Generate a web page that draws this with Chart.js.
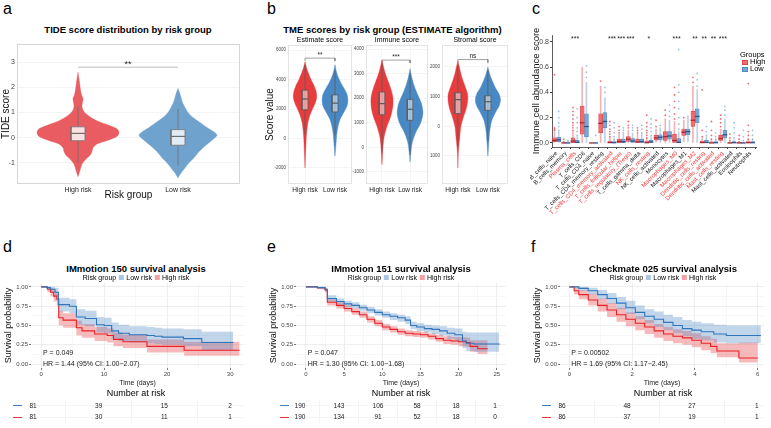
<!DOCTYPE html>
<html>
<head>
<meta charset="utf-8">
<title>Risk group figure</title>
<script src="https://cdn.jsdelivr.net/npm/chart.js@4.4.1/dist/chart.umd.min.js"></script>
<style>
  html, body { margin: 0; padding: 0; background: #fff; }
  #fig { position: relative; width: 771px; height: 428px; overflow: hidden; background: #fff;
         font-family: "Liberation Sans", Arial, sans-serif; color: #000; }
  #fig canvas { position: absolute; }
  .txt { position: absolute; white-space: nowrap; }
  .key { display: inline-block; width: 5px; height: 5px; margin: 0 2px 0 3px; }
  .sq { position: absolute; }
</style>
</head>
<body>
<div id="fig"></div>
<script>
// ---------- a: TIDE score ----------
const tideGroups = ['High risk', 'Low risk'];
const tideTicks = [-1, 0, 1, 2, 3];
const tideHighY = [-1.55, -1.3, -1.05, -0.85, -0.7, -0.55, -0.4, -0.25, -0.1, 0.05, 0.2, 0.35, 0.5, 0.65, 0.8, 0.95, 1.1, 1.25, 1.4, 1.55, 1.7, 1.9, 2.2, 2.6];
const tideHighW = [0, 0.02, 0.04, 0.08, 0.12, 0.14, 0.15, 0.19, 0.3, 0.39, 0.41, 0.39, 0.3, 0.2, 0.13, 0.08, 0.05, 0.04, 0.045, 0.05, 0.035, 0.025, 0.015, 0];
const tideLowY = [-1.6, -1.4, -1.2, -1.0, -0.8, -0.6, -0.4, -0.2, 0.0, 0.1, 0.2, 0.4, 0.6, 0.8, 1.0, 1.2, 1.4, 1.6, 1.8, 1.95];
const tideLowW = [0, 0.03, 0.07, 0.11, 0.16, 0.2, 0.25, 0.31, 0.37, 0.39, 0.37, 0.29, 0.22, 0.15, 0.1, 0.07, 0.045, 0.03, 0.015, 0];
// lower whisker, q1, median, q3, upper whisker
const tideHighBox = [-1.0, -0.12, 0.17, 0.43, 1.25];
const tideLowBox = [-1.1, -0.3, 0.05, 0.32, 1.15];

// ---------- b: ESTIMATE scores ----------
const tmeGroups = ['High risk', 'Low risk'];
const estTicks = [-2000, 0, 2000, 4000, 6000];
const estHighY = [-2000, -1200, -500, 0, 500, 1000, 1500, 2000, 2400, 2800, 3200, 3600, 4000, 4400, 4800, 5200];
const estHighW = [0, 0.015, 0.03, 0.04, 0.06, 0.09, 0.15, 0.25, 0.34, 0.39, 0.37, 0.3, 0.2, 0.12, 0.05, 0];
const estLowY = [-1200, -700, -200, 300, 800, 1300, 1800, 2200, 2600, 3000, 3400, 3800, 4200, 4600, 5000];
const estLowW = [0, 0.02, 0.04, 0.06, 0.1, 0.17, 0.3, 0.4, 0.43, 0.4, 0.3, 0.19, 0.1, 0.04, 0];
const estHighBox = [300, 1950, 2680, 3280, 5000];
const estLowBox = [200, 1800, 2400, 2950, 4600];

const immTicks = [-1000, 0, 1000, 2000, 3000, 4000];
const immHighY = [-700, -300, 100, 500, 900, 1300, 1700, 2100, 2500, 2900, 3200, 3550];
const immHighW = [0, 0.02, 0.04, 0.09, 0.19, 0.32, 0.39, 0.38, 0.28, 0.15, 0.07, 0];
const immLowY = [-600, -200, 200, 600, 1000, 1400, 1800, 2200, 2600, 2900, 3200];
const immLowW = [0, 0.03, 0.08, 0.2, 0.38, 0.46, 0.4, 0.25, 0.12, 0.05, 0];
const immHighBox = [-200, 1330, 1780, 2250, 3400];
const immLowBox = [-300, 1100, 1550, 1950, 3000];

const strTicks = [-1000, 0, 1000, 2000];
const strHighY = [-1400, -1000, -700, -400, 0, 300, 600, 900, 1100, 1400, 1700, 2000, 2200];
const strHighW = [0, 0.01, 0.03, 0.06, 0.1, 0.18, 0.28, 0.33, 0.32, 0.22, 0.12, 0.05, 0];
const strLowY = [-1000, -700, -400, -100, 200, 500, 700, 900, 1100, 1300, 1600, 1800, 2000];
const strLowW = [0, 0.02, 0.04, 0.07, 0.13, 0.27, 0.38, 0.42, 0.37, 0.25, 0.12, 0.05, 0];
const strHighBox = [-700, 430, 900, 1130, 2050];
const strLowBox = [-500, 540, 830, 1030, 1900];

// ---------- c: immune cell abundance ----------
const cellNames = ['B_cells_naive', 'B_cells_memory', 'Plasma_cells', 'T_cells_CD8', 'T_cells_CD4_naive',
  'T_cells_CD4_memory_resting', 'T_cells_CD4_memory_activated', 'T_cells_follicular_helper',
  'T_cells_regulatory_(Tregs)', 'T_cells_gamma_delta', 'NK_cells_resting', 'NK_cells_activated', 'Monocytes',
  'Macrophages_M0', 'Macrophages_M1', 'Macrophages_M2', 'Dendritic_cells_resting', 'Dendritic_cells_activated',
  'Mast_cells_resting', 'Mast_cells_activated', 'Eosinophils', 'Neutrophils'];
const cellSig = ['', '', '***', '', '', '', '***', '***', '***', '', '*', '', '', '***', '', '**', '**', '**', '***', '', '', ''];
const cellTicks = [0, 0.2, 0.4, 0.6, 0.8];
const highLo  = [0, 0, 0, 0, 0, 0, 0, 0, 0, 0, 0, 0, 0, 0, 0.01, 0, 0, 0, 0, 0, 0, 0];
const highQ1  = [0.01, 0, 0.003, 0.07, 0, 0.08, 0, 0.002, 0.012, 0, 0, 0.022, 0.02, 0, 0.06, 0.13, 0, 0, 0.02, 0, 0, 0];
const highMed = [0.02, 0, 0.015, 0.16, 0, 0.155, 0.003, 0.012, 0.03, 0.008, 0.002, 0.04, 0.05, 0.02, 0.085, 0.18, 0.003, 0, 0.035, 0, 0, 0.002];
const highQ3  = [0.04, 0.002, 0.04, 0.29, 0, 0.23, 0.015, 0.03, 0.05, 0.03, 0.015, 0.06, 0.09, 0.07, 0.11, 0.25, 0.015, 0.008, 0.06, 0.004, 0.002, 0.01];
const highHi  = [0.09, 0.004, 0.09, 0.6, 0, 0.45, 0.04, 0.07, 0.1, 0.07, 0.035, 0.11, 0.19, 0.17, 0.18, 0.45, 0.035, 0.02, 0.11, 0.01, 0.005, 0.025];
const lowLo   = [0, 0, 0, 0, 0, 0, 0, 0, 0, 0, 0, 0, 0, 0, 0.01, 0, 0, 0, 0, 0, 0, 0];
const lowQ1   = [0.01, 0, 0, 0.05, 0, 0.12, 0, 0.002, 0, 0, 0, 0.025, 0.03, 0, 0.065, 0.16, 0, 0, 0.04, 0, 0, 0];
const lowMed  = [0.025, 0, 0.005, 0.13, 0, 0.17, 0.002, 0.01, 0.015, 0.01, 0.008, 0.045, 0.055, 0.005, 0.09, 0.21, 0.004, 0.002, 0.065, 0.002, 0, 0.002];
const lowQ3   = [0.045, 0.002, 0.02, 0.23, 0, 0.24, 0.01, 0.03, 0.035, 0.03, 0.02, 0.065, 0.09, 0.035, 0.11, 0.27, 0.02, 0.01, 0.1, 0.01, 0.003, 0.01];
const lowHi   = [0.09, 0.004, 0.05, 0.48, 0, 0.36, 0.025, 0.07, 0.08, 0.07, 0.05, 0.12, 0.18, 0.09, 0.2, 0.42, 0.05, 0.025, 0.19, 0.025, 0.007, 0.025];
const highOut = [[0.1, 0.11, 0.12, 0.54], [0.01, 0.03], [0.1, 0.12, 0.14, 0.16, 0.19, 0.22, 0.25, 0.28], [], [],
  [0.49], [0.05, 0.07, 0.09, 0.11, 0.14, 0.17], [0.08, 0.1, 0.13], [0.12, 0.14, 0.17], [0.08, 0.1, 0.12],
  [0.04, 0.06, 0.08, 0.1, 0.13, 0.16, 0.22], [0.13, 0.18], [0.22, 0.26], [0.19, 0.23, 0.28, 0.33, 0.38, 0.44],
  [0.2], [0.48, 0.52], [0.05, 0.1, 0.42], [0.03, 0.06, 0.1, 0.17], [0.13, 0.16, 0.19, 0.22], [0.02, 0.04, 0.07],
  [0.01, 0.03, 0.06], [0.03, 0.06, 0.09, 0.14, 0.47]];
const lowOut = [[0.1, 0.13, 0.16, 0.2, 0.25], [0.01, 0.02], [0.06, 0.09, 0.12, 0.16, 0.2, 0.27], [0.52, 0.56, 0.61], [0.06],
  [0.4, 0.44], [0.03, 0.05, 0.08, 0.12, 0.16], [0.08, 0.1, 0.12], [0.1, 0.12, 0.14], [0.08, 0.11, 0.14],
  [0.06, 0.09, 0.12, 0.15, 0.19], [0.14], [0.21, 0.25, 0.3], [0.11, 0.15, 0.2, 0.27, 0.33, 0.4, 0.46, 0.74],
  [0.21], [0.45, 0.5, 0.55], [0.06, 0.09, 0.13], [0.03, 0.05, 0.08], [0.22, 0.26, 0.29], [0.04, 0.08, 0.12, 0.16],
  [0.02, 0.05, 0.1], [0.03, 0.06, 0.1]];

// ---------- d/e/f: survival ----------
const survTicks = [0, 0.25, 0.5, 0.75, 1];

const d150LowT = [0, 0.9, 1.5, 2.2, 2.75, 4.5, 5.6, 7.0, 8.8, 10.0, 11.2, 12.3, 14.0, 16.8, 18.0, 19.2, 22.6, 25.5, 30.5];
const d150LowS = [1.0, 0.99, 0.97, 0.93, 0.77, 0.75, 0.61, 0.59, 0.51, 0.50, 0.43, 0.40, 0.38, 0.37, 0.36, 0.35, 0.33, 0.28, 0.28];
const d150LowU = [1.0, 1.0, 1.0, 0.99, 0.86, 0.84, 0.71, 0.69, 0.61, 0.60, 0.54, 0.51, 0.49, 0.48, 0.47, 0.46, 0.45, 0.42, 0.42];
const d150LowL = [1.0, 0.97, 0.93, 0.88, 0.68, 0.66, 0.51, 0.49, 0.41, 0.40, 0.33, 0.30, 0.28, 0.27, 0.26, 0.25, 0.23, 0.18, 0.18];
const d150HighT = [0, 1.0, 1.5, 2.0, 2.5, 2.8, 3.5, 5.6, 6.5, 8.5, 10.5, 11.5, 13.0, 16.8, 22.7, 31.5];
const d150HighS = [1.0, 0.97, 0.93, 0.88, 0.84, 0.60, 0.57, 0.47, 0.43, 0.39, 0.37, 0.32, 0.29, 0.23, 0.18, 0.18];
const d150HighU = [1.0, 1.0, 0.98, 0.94, 0.91, 0.69, 0.66, 0.56, 0.52, 0.48, 0.46, 0.41, 0.38, 0.32, 0.29, 0.29];
const d150HighL = [1.0, 0.93, 0.88, 0.81, 0.76, 0.50, 0.47, 0.37, 0.34, 0.30, 0.28, 0.23, 0.21, 0.15, 0.11, 0.11];
const d150Times = [0, 10, 20, 30];
const d150LowN = [81, 39, 15, 2];
const d150HighN = [81, 30, 11, 1];

const e151LowT = [0, 1.5, 2.5, 2.8, 4, 5, 6, 7, 8, 9, 10, 11, 12, 13, 13.7, 14.5, 15.5, 16.5, 17.5, 18.5, 19.5, 20.5, 21, 22, 25.3];
const e151LowS = [1, 0.99, 0.97, 0.85, 0.81, 0.78, 0.76, 0.73, 0.70, 0.67, 0.64, 0.62, 0.60, 0.57, 0.50, 0.48, 0.46, 0.45, 0.43, 0.40, 0.38, 0.30, 0.27, 0.26, 0.25];
const e151LowU = [1, 1, 0.99, 0.89, 0.85, 0.82, 0.80, 0.77, 0.74, 0.71, 0.68, 0.66, 0.64, 0.62, 0.55, 0.53, 0.51, 0.50, 0.49, 0.47, 0.46, 0.42, 0.41, 0.41, 0.41];
const e151LowL = [1, 0.98, 0.95, 0.81, 0.77, 0.74, 0.72, 0.69, 0.66, 0.63, 0.60, 0.57, 0.55, 0.52, 0.45, 0.43, 0.41, 0.39, 0.37, 0.33, 0.30, 0.21, 0.17, 0.16, 0.15];
const e151HighT = [0, 1.5, 2.5, 2.8, 4, 5, 6, 7, 8, 9, 10, 11, 12, 13, 14, 15, 16, 17, 18, 19, 20, 21, 21.5, 22.5, 23.8];
const e151HighS = [1, 0.99, 0.96, 0.80, 0.76, 0.72, 0.68, 0.64, 0.58, 0.53, 0.48, 0.45, 0.42, 0.40, 0.39, 0.38, 0.36, 0.33, 0.31, 0.30, 0.29, 0.28, 0.23, 0.20, 0.20];
const e151HighU = [1, 1, 0.98, 0.84, 0.80, 0.76, 0.72, 0.68, 0.62, 0.57, 0.52, 0.49, 0.46, 0.44, 0.43, 0.42, 0.40, 0.38, 0.36, 0.35, 0.35, 0.34, 0.31, 0.31, 0.31];
const e151HighL = [1, 0.97, 0.93, 0.76, 0.72, 0.68, 0.64, 0.60, 0.54, 0.49, 0.44, 0.41, 0.38, 0.36, 0.35, 0.34, 0.32, 0.29, 0.26, 0.25, 0.23, 0.22, 0.16, 0.13, 0.12];
const e151Times = [0, 5, 10, 15, 20, 25];
const e151LowN = [190, 143, 106, 58, 18, 1];
const e151HighN = [190, 134, 91, 52, 18, 0];

const f025LowT = [0, 0.3, 0.6, 0.9, 1.2, 1.5, 1.8, 2.1, 2.4, 2.7, 3.0, 3.3, 3.6, 3.9, 4.2, 4.6, 5.0, 6.1];
const f025LowS = [1, 0.98, 0.95, 0.90, 0.85, 0.79, 0.73, 0.67, 0.62, 0.58, 0.54, 0.50, 0.46, 0.44, 0.42, 0.39, 0.37, 0.37];
const f025LowU = [1, 1, 0.99, 0.96, 0.92, 0.87, 0.82, 0.76, 0.71, 0.68, 0.64, 0.61, 0.57, 0.55, 0.53, 0.51, 0.50, 0.50];
const f025LowL = [1, 0.95, 0.90, 0.84, 0.78, 0.71, 0.65, 0.58, 0.53, 0.48, 0.44, 0.40, 0.36, 0.33, 0.31, 0.28, 0.27, 0.27];
const f025HighT = [0, 0.15, 0.3, 0.6, 0.9, 1.2, 1.5, 1.8, 2.1, 2.4, 2.7, 3.0, 3.3, 3.6, 3.9, 4.2, 4.5, 4.7, 5.4, 6.0];
const f025HighS = [1, 0.95, 0.90, 0.83, 0.76, 0.70, 0.64, 0.58, 0.53, 0.48, 0.43, 0.39, 0.36, 0.34, 0.31, 0.27, 0.23, 0.17, 0.08, 0.08];
const f025HighU = [1, 1, 0.96, 0.91, 0.85, 0.79, 0.73, 0.67, 0.62, 0.57, 0.52, 0.48, 0.45, 0.43, 0.40, 0.36, 0.33, 0.27, 0.28, 0.28];
const f025HighL = [1, 0.90, 0.84, 0.76, 0.68, 0.61, 0.55, 0.49, 0.44, 0.39, 0.34, 0.30, 0.27, 0.25, 0.22, 0.18, 0.14, 0.09, 0.02, 0.02];
const f025Times = [0, 2, 4, 6];
const f025LowN = [86, 48, 27, 1];
const f025HighN = [86, 37, 19, 1];

// ---------- helpers ----------
const FONT = '"Liberation Sans", Arial, sans-serif';
Chart.defaults.font.family = FONT;
Chart.defaults.color = '#333';

const RED_A = 'rgb(233,92,97)', BLUE_A = 'rgb(112,162,206)';
const RED_B = 'rgb(230,60,62)', BLUE_B = 'rgb(72,136,196)';
const KM_BLUE = 'rgb(49,117,187)', KM_RED = 'rgb(232,32,40)';
const BAND_BLUE = 'rgba(70,130,195,0.33)', BAND_RED = 'rgba(232,45,50,0.33)';
const KEY_BLUE = 'rgb(168,198,228)', KEY_RED = 'rgb(244,160,162)';
const LABEL_RED = 'rgb(236,64,62)';

const fig = document.getElementById('fig');

function text(str, x, base, size, opts = {}) {
  const d = document.createElement('div');
  d.className = 'txt';
  if (opts.html) d.innerHTML = str; else d.textContent = str;
  d.style.fontSize = size + 'px';
  d.style.lineHeight = size + 'px';
  d.style.left = x + 'px';
  d.style.top = (base - 0.846 * size) + 'px';
  const shift = {left: '0', center: '-50%', right: '-100%'}[opts.align || 'center'];
  d.style.transform = 'translateX(' + shift + ')';
  if (opts.bold) d.style.fontWeight = 'bold';
  if (opts.color) d.style.color = opts.color;
  fig.appendChild(d);
  return d;
}

function square(x, y, w, h, color, edge) {
  const d = document.createElement('div');
  d.className = 'sq';
  Object.assign(d.style, {left: x + 'px', top: y + 'px', width: w + 'px', height: h + 'px', background: color,
    boxSizing: 'border-box', border: edge ? '0.6px solid ' + edge : 'none'});
  fig.appendChild(d);
}

// canvas placed so that the plotting area lands on [left, top, right, bottom]
function mount(area, yw, xh, pt, pr) {
  const [l, t, r, b] = area;
  const c = document.createElement('canvas');
  c.width = Math.round(r + pr - (l - yw));
  c.height = Math.round(b + xh - (t - pt));
  c.style.left = (l - yw) + 'px';
  c.style.top = (t - pt) + 'px';
  fig.appendChild(c);
  return c;
}

function hFit(h) { return s => { s.height = h; s.paddingLeft = 0; s.paddingRight = 0; }; }
function vFit(w) { return s => { s.width = w; s.paddingTop = 0; s.paddingBottom = 0; }; }
function fixedTicks(vals) { return s => { s.ticks = vals.map(v => ({value: v})); }; }
function withMinor(vals) {
  return s => {
    const out = [];
    vals.forEach((v, i) => {
      out.push({value: v});
      if (i < vals.length - 1) out.push({value: (v + vals[i + 1]) / 2, minor: true});
    });
    s.ticks = out;
  };
}

function frame(color) {
  return {
    id: 'frame',
    beforeDatasetsDraw(chart) {
      const {ctx, chartArea: a} = chart;
      ctx.save();
      ctx.strokeStyle = color;
      ctx.lineWidth = 1;
      ctx.strokeRect(Math.round(a.left) + 0.5, Math.round(a.top) + 0.5, Math.round(a.right - a.left) - 1, Math.round(a.bottom - a.top) - 1);
      ctx.restore();
    }
  };
}

function marks(items) {
  return {
    id: 'marks',
    afterDatasetsDraw(chart) {
      const {ctx, scales} = chart;
      items.forEach(it => {
        ctx.save();
        ctx.font = (it.bold ? 'bold ' : '') + (it.size || 7) + 'px ' + FONT;
        ctx.fillStyle = it.color || '#222';
        ctx.textAlign = it.align || 'center';
        ctx.textBaseline = 'middle';
        ctx.fillText(it.text, scales.x.getPixelForValue(it.x) + (it.dx || 0), scales.y.getPixelForValue(it.y) + (it.dy || 0));
        ctx.restore();
      });
    }
  };
}

function seg(points, color, width) {
  return {type: 'scatter', data: points, showLine: true, borderColor: color, borderWidth: width, pointRadius: 0, fill: false};
}

function violin(cx, ys, ws, color) {
  const right = ys.map((y, i) => ({x: cx + ws[i], y}));
  const left = ys.map((y, i) => ({x: cx - ws[i], y})).reverse();
  return {type: 'scatter', data: right.concat(left), showLine: true, fill: 'shape', tension: 0.3,
    backgroundColor: color, borderColor: color, borderWidth: 0.4, pointRadius: 0};
}

function boxSets(cx, b, half, fill, edge) {
  const [lo, q1, med, q3, hi] = b;
  return [
    seg([{x: cx - half, y: med}, {x: cx + half, y: med}], edge, 1.2),
    {type: 'scatter', showLine: true, fill: 'shape', backgroundColor: fill, borderColor: edge, borderWidth: 0.8, pointRadius: 0,
      data: [{x: cx - half, y: q1}, {x: cx + half, y: q1}, {x: cx + half, y: q3}, {x: cx - half, y: q3}, {x: cx - half, y: q1}]},
    seg([{x: cx, y: lo}, {x: cx, y: hi}], edge, 0.8)
  ];
}

function bracket(y, drop, color) {
  return seg([{x: 0, y: y - drop}, {x: 0, y}, {x: 1, y}, {x: 1, y: y - drop}], color, 0.7);
}

function violinOptions(o) {
  return {
    responsive: false, animation: false, events: [],
    layout: {padding: {top: o.pt, right: o.pr, left: 0, bottom: 0}},
    plugins: {legend: {display: false}, tooltip: {enabled: false}},
    scales: {
      x: {
        type: 'linear', min: o.xr[0], max: o.xr[1],
        afterBuildTicks: fixedTicks([0, 1]), afterFit: hFit(o.xh),
        ticks: {callback: (v, i) => o.groups[i], font: {size: o.xFont}, color: '#222', padding: 2, maxRotation: 0, autoSkip: false},
        grid: {display: o.gridX, color: '#ededed', lineWidth: 0.6, drawTicks: false},
        border: {display: false},
        title: o.xTitle ? {display: true, text: o.xTitle, font: {size: 10}, color: '#111', padding: {top: 0, bottom: 4}} : {display: false}
      },
      y: {
        min: o.yr[0], max: o.yr[1],
        afterBuildTicks: fixedTicks(o.yTicks), afterFit: vFit(o.yw),
        ticks: {callback: v => String(v), font: {size: o.yFont}, color: '#444', padding: 2, autoSkip: false},
        grid: {color: '#ececec', lineWidth: 0.6, drawTicks: false},
        border: {display: false},
        title: o.yTitle ? {display: true, text: o.yTitle, font: {size: 10}, color: '#111', padding: {top: o.yTitlePad || 0, bottom: 0}} : {display: false}
      }
    }
  };
}

// ---------- panel a ----------
new Chart(mount([17, 44, 240, 184], 17, 21, 4, 10), {
  type: 'scatter',
  data: {datasets: [
    ...boxSets(0, tideHighBox, 0.07, '#fbe0e1', '#707070'),
    ...boxSets(1, tideLowBox, 0.07, '#e2ecf6', '#707070'),
    violin(0, tideHighY, tideHighW, RED_A),
    violin(1, tideLowY, tideLowW, BLUE_A),
    seg([{x: 0, y: 2.8}, {x: 1, y: 2.8}], '#aaaaaa', 0.8)
  ]},
  options: violinOptions({pt: 4, pr: 10, xh: 21, yw: 17, xr: [-0.61, 1.62], yr: [-1.84, 3.72], yTicks: tideTicks,
    groups: tideGroups, xFont: 7, yFont: 7, gridX: false, xTitle: 'Risk group', yTitle: 'TIDE score', yTitlePad: 0}),
  plugins: [frame('#d6d6d6'), marks([{x: 0.5, y: 2.8, dy: -3, text: '**', size: 9}])]
});

// ---------- panel b (three facets) ----------
function facet(area, yw, xr, yr, yTicks, high, low, hiBox, loBox, sig, yTitle) {
  new Chart(mount(area, yw, 12, 2, 1), {
    type: 'scatter',
    data: {datasets: [
      ...boxSets(0, hiBox, 0.1, 'rgba(255,255,255,0.5)', '#5a5a5a'),
      ...boxSets(1, loBox, 0.1, 'rgba(255,255,255,0.5)', '#5a5a5a'),
      violin(0, high[0], high[1], RED_B),
      violin(1, low[0], low[1], BLUE_B),
      bracket(sig.y, sig.drop, '#777777')
    ]},
    options: violinOptions({pt: 2, pr: 1, xh: 12, yw, xr, yr, yTicks, groups: tmeGroups, xFont: 6.5, yFont: 4.5,
      gridX: true, yTitle, yTitlePad: 2}),
    plugins: [frame('#e3e3e3'), marks([{x: 0.5, y: sig.y, dy: -3, text: sig.label, size: 6.5}])]
  });
}
facet([288, 45, 352, 184], 26, [-0.567, 1.567], [-3085, 6340], estTicks, [estHighY, estHighW], [estLowY, estLowW],
  estHighBox, estLowBox, {y: 5450, drop: 200, label: '**'}, 'Score value');
facet([366, 45, 428, 184], 14, [-0.57, 1.64], [-1488, 4163], immTicks, [immHighY, immHighW], [immLowY, immLowW],
  immHighBox, immLowBox, {y: 3550, drop: 120, label: '***'}, null);
facet([442, 45, 508, 184], 12, [-0.53, 1.67], [-1944, 2741], strTicks, [strHighY, strHighW], [strLowY, strLowW],
  strHighBox, strLowBox, {y: 2250, drop: 100, label: 'ns'}, null);

// ---------- panel c ----------
const OFF = 0.23;
function cellBars(lo, hi, off, color, thick, edge) {
  return {type: 'bar', grouped: false, barThickness: thick, backgroundColor: color,
    borderWidth: edge ? 0.6 : 0, borderColor: edge || color, borderSkipped: false,
    data: cellNames.map((n, i) => ({x: i + off, y: [lo[i], hi[i]]}))};
}
function medianBars(med, off, color) {
  return {type: 'bar', grouped: false, barThickness: 4, backgroundColor: color, borderWidth: 0,
    data: cellNames.map((n, i) => ({x: i + off, y: [med[i] - 0.0025, med[i] + 0.0025]}))};
}
function outlierSet(lists, off, color) {
  const pts = [];
  lists.forEach((vals, i) => vals.forEach(v => pts.push({x: i + off, y: v})));
  return {type: 'scatter', data: pts, pointRadius: 0.9, backgroundColor: color, borderWidth: 0};
}

new Chart(mount([552, 35, 756, 147], 22, 71, 10, 15), {
  type: 'bar',
  data: {datasets: [
    outlierSet(highOut, -OFF, 'rgba(232,60,66,0.75)'),
    outlierSet(lowOut, OFF, 'rgba(120,165,212,0.7)'),
    medianBars(highMed, -OFF, 'rgb(170,40,45)'),
    medianBars(lowMed, OFF, 'rgb(40,85,140)'),
    cellBars(highQ1, highQ3, -OFF, 'rgb(238,110,112)', 4, 'rgb(222,70,74)'),
    cellBars(lowQ1, lowQ3, OFF, 'rgb(120,166,212)', 4, 'rgb(84,136,192)'),
    cellBars(highLo, highHi, -OFF, 'rgba(236,100,104,0.5)', 1),
    cellBars(lowLo, lowHi, OFF, 'rgba(120,166,212,0.5)', 1)
  ]},
  options: {
    responsive: false, animation: false, events: [],
    layout: {padding: {top: 10, right: 15, left: 0, bottom: 0}},
    plugins: {legend: {display: false}, tooltip: {enabled: false}},
    scales: {
      x: {
        type: 'linear', min: -0.5, max: 21.6, offset: false,
        afterBuildTicks: fixedTicks(cellNames.map((n, i) => i)), afterFit: hFit(71),
        ticks: {autoSkip: false, minRotation: 45, maxRotation: 45, font: {size: 6}, padding: 1,
          callback: (v, i) => cellNames[i], color: c => (cellSig[c.index] ? LABEL_RED : '#222')},
        grid: {drawOnChartArea: false, color: '#333', tickColor: '#333', tickLength: 2},
        border: {display: true, color: '#333', width: 0.8}
      },
      y: {
        min: -0.032, max: 0.855,
        afterBuildTicks: fixedTicks(cellTicks), afterFit: vFit(22),
        ticks: {font: {size: 7}, color: '#444', padding: 1, autoSkip: false, callback: v => v.toFixed(1)},
        grid: {drawOnChartArea: false, color: '#333', tickColor: '#333', tickLength: 2},
        border: {display: true, color: '#333', width: 0.8},
        title: {display: true, text: 'Immune cell abundance score', font: {size: 9.5}, color: '#111', padding: {top: 1, bottom: 0}}
      }
    }
  },
  plugins: [marks(cellSig.map((s, i) => ({x: i, y: 0.82, text: s, size: 7})))]
});

// ---------- panels d/e/f ----------
function kmSets(lowT, lowS, lowL, lowU, highT, highS, highL, highU) {
  const pts = (t, v) => t.map((x, i) => ({x, y: v[i]}));
  const step = (data, color, w) => ({type: 'line', data, stepped: true, borderColor: color, borderWidth: w, pointRadius: 0, fill: false});
  return [
    step(pts(lowT, lowS), KM_BLUE, 1.1),
    step(pts(highT, highS), KM_RED, 1.1),
    Object.assign(step(pts(lowT, lowU), 'rgba(0,0,0,0)', 0), {fill: '+1', backgroundColor: BAND_BLUE}),
    step(pts(lowT, lowL), 'rgba(0,0,0,0)', 0),
    Object.assign(step(pts(highT, highU), 'rgba(0,0,0,0)', 0), {fill: '+1', backgroundColor: BAND_RED}),
    step(pts(highT, highL), 'rgba(0,0,0,0)', 0)
  ];
}

const minorGrid = c => (c.tick && c.tick.minor ? '#f3f3f3' : '#e6e6e6');
const minorTick = c => (c.tick && c.tick.minor ? 'rgba(0,0,0,0)' : '#444');

function kmChart(area, pr, xr, xTicks, sets, pText, hrText) {
  const noteX = (xr[1] - xr[0]) * 0.009;
  new Chart(mount(area, 31, 22, 3, pr), {
    type: 'line',
    data: {datasets: sets},
    options: {
      responsive: false, animation: false, events: [],
      layout: {padding: {top: 3, right: pr, left: 0, bottom: 0}},
      plugins: {legend: {display: false}, tooltip: {enabled: false}},
      scales: {
        x: {
          type: 'linear', min: xr[0], max: xr[1],
          afterBuildTicks: withMinor(xTicks), afterFit: hFit(22),
          ticks: {font: {size: 6}, color: '#444', padding: 1, maxRotation: 0, autoSkip: false,
            callback: (v, i, t) => (t[i].minor ? '' : String(v))},
          grid: {color: minorGrid, tickColor: minorTick, tickLength: 2, lineWidth: 0.7},
          border: {display: false},
          title: {display: true, text: 'Time (days)', font: {size: 7}, color: '#222', padding: {top: 0, bottom: 3}}
        },
        y: {
          min: -0.05, max: 1.05,
          afterBuildTicks: withMinor(survTicks), afterFit: vFit(31),
          ticks: {font: {size: 6}, color: '#444', padding: 1, autoSkip: false,
            callback: (v, i, t) => (t[i].minor ? '' : v.toFixed(2))},
          grid: {color: minorGrid, tickColor: minorTick, tickLength: 2, lineWidth: 0.7},
          border: {display: false},
          title: {display: true, text: 'Survival probability', font: {size: 9}, color: '#111', padding: {top: 3, bottom: 0}}
        }
      }
    },
    plugins: [marks([
      {x: noteX, y: 0.14, text: pText, align: 'left', size: 7},
      {x: noteX, y: 0.0, text: hrText, align: 'left', size: 7}
    ])]
  });
}

function riskChart(area, xr, times, lowN, highN) {
  const mid = times.slice(1).map((t, i) => (t + times[i]) / 2);
  const items = [];
  times.forEach((t, i) => {
    items.push({x: t, y: 1, text: String(lowN[i]), size: 6.5});
    items.push({x: t, y: 0, text: String(highN[i]), size: 6.5});
  });
  new Chart(mount(area, 12, 0, 1, 2), {
    type: 'scatter',
    data: {datasets: []},
    options: {
      responsive: false, animation: false, events: [],
      layout: {padding: {top: 1, right: 2, left: 0, bottom: 0}},
      plugins: {legend: {display: false}, tooltip: {enabled: false}},
      scales: {
        x: {type: 'linear', min: xr[0], max: xr[1], afterBuildTicks: fixedTicks(mid), afterFit: hFit(0),
          ticks: {display: false}, grid: {color: '#efefef', lineWidth: 0.7, drawTicks: false}, border: {display: false}},
        y: {min: -0.5, max: 1.5, afterBuildTicks: fixedTicks([0, 1]), afterFit: vFit(12),
          ticks: {callback: () => '—', font: {size: 9, weight: 'bold'}, padding: 1, autoSkip: false,
            color: c => (c.index === 1 ? KM_BLUE : KM_RED)},
          grid: {color: '#efefef', lineWidth: 0.7, drawTicks: false}, border: {display: false}}
      }
    },
    plugins: [marks(items)]
  });
}

kmChart([31, 283, 244, 368], 6, [-1.6, 32.2], [0, 10, 20, 30],
  kmSets(d150LowT, d150LowS, d150LowL, d150LowU, d150HighT, d150HighS, d150HighL, d150HighU),
  'P = 0.049', 'HR = 1.44 (95% CI: 1.00−2.07)');
kmChart([296, 283, 506, 368], 6, [-1.3, 26.2], [0, 5, 10, 15, 20, 25],
  kmSets(e151LowT, e151LowS, e151LowL, e151LowU, e151HighT, e151HighS, e151HighL, e151HighU),
  'P = 0.047', 'HR = 1.30 (95% CI: 1.00−1.68)');
kmChart([560, 283, 764, 368], 7, [-0.3, 6.2], [0, 2, 4, 6],
  kmSets(f025LowT, f025LowS, f025LowL, f025LowU, f025HighT, f025HighS, f025HighL, f025HighU),
  'P = 0.00502', 'HR = 1.69 (95% CI: 1.17−2.45)');

riskChart([23, 400, 244, 423], [-1.523, 32.13], d150Times, d150LowN, d150HighN);
riskChart([290, 400, 504, 423], [-1.28, 26.15], e151Times, e151LowN, e151HighN);
riskChart([552, 400, 764, 423], [-0.31, 6.22], f025Times, f025LowN, f025HighN);

// ---------- text ----------
text('a', 3, 15, 16, {align: 'left'});
text('b', 267, 15, 16, {align: 'left'});
text('c', 532, 15, 16, {align: 'left'});
text('d', 3, 253, 16, {align: 'left'});
text('e', 267, 253, 16, {align: 'left'});
text('f', 531, 253, 16, {align: 'left'});

text('TIDE score distribution by risk group', 128, 33.5, 9.5, {bold: true});
text('TME scores by risk group (ESTIMATE algorithm)', 392.5, 33.5, 9.5, {bold: true});
text('Estimate score', 320, 42, 7);
text('Immune score', 397, 42, 7);
text('Stromal score', 475, 42, 7);

text('Groups', 740, 57, 7.5, {align: 'left'});
square(742, 59.5, 6, 5, 'rgb(238,110,112)', 'rgb(222,70,74)');
text('High', 750, 64.5, 7.5, {align: 'left'});
square(742, 66.5, 6, 5, 'rgb(120,166,212)', 'rgb(84,136,192)');
text('Low', 750, 71.5, 7.5, {align: 'left'});

const legendHtml = 'Risk group<span class="key" style="background:' + KEY_BLUE + '"></span>Low risk' +
  '<span class="key" style="background:' + KEY_RED + '"></span>High risk';
[['IMmotion 150 survival analysis', 136], ['IMmotion 151 survival analysis', 401], ['Checkmate 025 survival analysis', 663]]
  .forEach(([title, cx]) => {
    text(title, cx, 272, 9.5, {bold: true});
    text(legendHtml, cx, 280, 7, {html: true});
    text('Number at risk', cx, 396.5, 9);
  });
</script>
</body>
</html>
